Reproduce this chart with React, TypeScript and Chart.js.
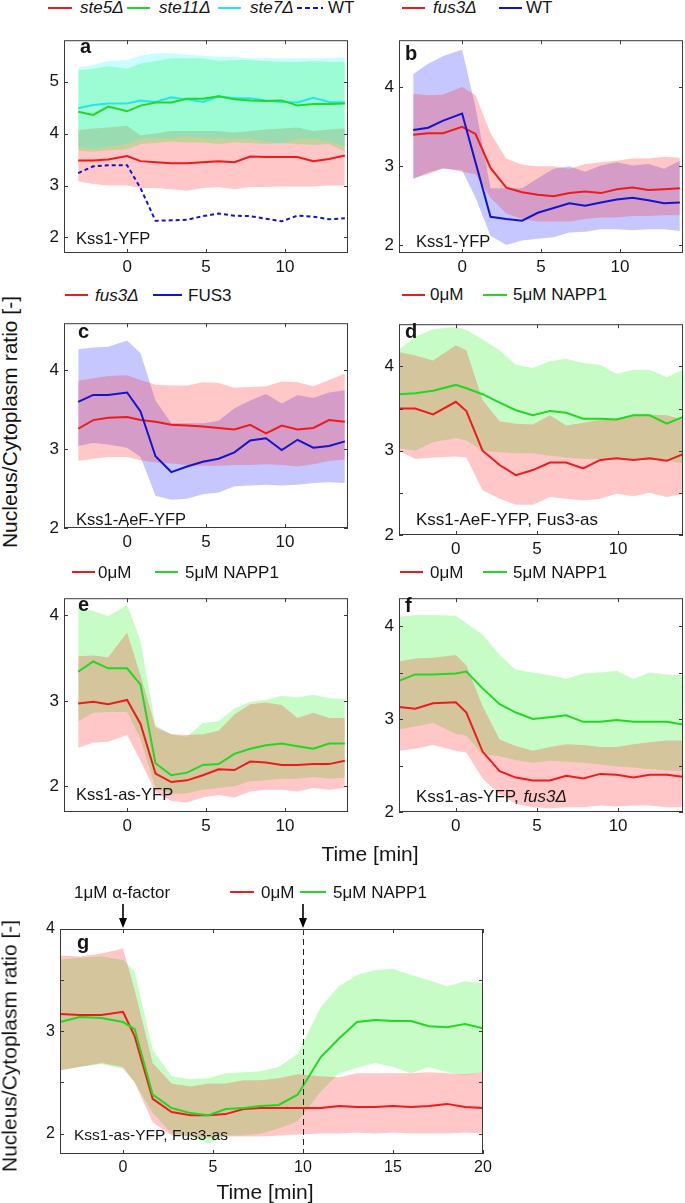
import React, { useEffect, useRef } from "react";
import { Chart, registerables } from "chart.js";

Chart.register(...registerables);

const FONT = '"Liberation Sans", Arial, Helvetica, sans-serif';
Chart.defaults.font.family = FONT;

const TXT = "#151515";
const RED = "#ec1c1c";
const GREEN = "#22d822";
const BLUE = "#1414cc";
const CYAN = "#22e6ee";
const RED_BAND = "rgba(255,0,0,0.22)";
const GREEN_BAND = "rgba(0,240,0,0.22)";
const BLUE_BAND = "rgba(0,0,255,0.22)";
const CYAN_BAND = "rgba(0,255,255,0.22)";

// ---------- time axes ----------
const T1 = [-3.1, -2.15, -1.2, 0, 0.85, 1.8, 2.8, 3.8, 4.8, 5.8, 6.8, 7.8, 8.8, 9.8, 10.8, 11.8, 12.8, 13.8];
const T2 = [-3.5, -2.5, -1.4, 0, 0.65, 1.65, 2.7, 3.7, 4.75, 5.8, 6.8, 7.85, 8.9, 9.9, 10.95, 11.95, 13.0, 14.0];
const TG = [-3.5, -2.4, -1.2, 0, 0.65, 1.65, 2.7, 3.75, 4.75, 5.7, 6.7, 7.65, 8.65, 9.7, 11, 12, 13, 14, 15, 16, 17, 18, 19, 20];

// ---------- panel a ----------
const aSte5 = [3.48, 3.48, 3.5, 3.57, 3.47, 3.45, 3.43, 3.43, 3.45, 3.47, 3.45, 3.56, 3.55, 3.55, 3.55, 3.47, 3.51, 3.58];
const aSte5Hi = [4.07, 4.1, 4.12, 4.15, 3.97, 4.0, 4.05, 4.05, 4.05, 4.05, 4.02, 4.05, 4.08, 4.1, 4.12, 4.05, 4.08, 4.1];
const aSte5Lo = [3.08, 3.03, 3.0, 3.0, 2.95, 2.95, 2.93, 2.9, 2.95, 2.97, 2.93, 2.97, 2.97, 2.98, 2.98, 2.98, 3.0, 3.0];
const aSte11 = [4.42, 4.36, 4.52, 4.43, 4.54, 4.6, 4.6, 4.67, 4.67, 4.72, 4.66, 4.64, 4.63, 4.64, 4.54, 4.57, 4.57, 4.58];
const aSte11Hi = [5.22, 5.25, 5.3, 5.25, 5.35, 5.4, 5.45, 5.45, 5.45, 5.4, 5.42, 5.42, 5.4, 5.38, 5.38, 5.4, 5.38, 5.38];
const aSte11Lo = [3.67, 3.65, 3.68, 3.7, 3.8, 3.82, 3.85, 3.83, 3.83, 3.8, 3.83, 3.82, 3.8, 3.82, 3.8, 3.78, 3.8, 3.65];
const aSte7 = [4.49, 4.55, 4.58, 4.58, 4.64, 4.61, 4.7, 4.66, 4.61, 4.72, 4.68, 4.68, 4.64, 4.61, 4.6, 4.69, 4.61, 4.6];
const aSte7Hi = [5.28, 5.32, 5.4, 5.42, 5.5, 5.55, 5.55, 5.52, 5.5, 5.48, 5.48, 5.45, 5.45, 5.45, 5.45, 5.45, 5.45, 5.47];
const aSte7Lo = [3.75, 3.7, 3.75, 3.8, 3.9, 3.9, 3.9, 3.95, 3.9, 3.9, 3.9, 3.9, 3.85, 3.8, 3.9, 3.9, 3.85, 3.75];
const aWT = [3.24, 3.37, 3.39, 3.39, 2.95, 2.32, 2.33, 2.34, 2.41, 2.46, 2.42, 2.41, 2.36, 2.31, 2.42, 2.4, 2.35, 2.37];

// ---------- panel b ----------
const bFus3 = [3.4, 3.42, 3.42, 3.5, 3.41, 2.98, 2.73, 2.67, 2.64, 2.62, 2.66, 2.68, 2.66, 2.71, 2.73, 2.7, 2.71, 2.72];
const bFus3Hi = [3.92, 3.9, 3.91, 4.01, 3.9, 3.42, 3.1, 3.02, 3.0, 3.0, 2.97, 3.03, 3.05, 3.07, 3.1, 3.1, 3.12, 3.11];
const bFus3Lo = [2.85, 2.9, 2.98, 2.93, 2.9, 2.6, 2.4, 2.33, 2.3, 2.3, 2.3, 2.33, 2.35, 2.35, 2.37, 2.37, 2.38, 2.38];
const bWT = [3.46, 3.49, 3.58, 3.67, 3.05, 2.36, 2.33, 2.31, 2.41, 2.47, 2.53, 2.5, 2.54, 2.58, 2.6, 2.57, 2.53, 2.54];
const bWTHi = [4.17, 4.3, 4.4, 4.48, 3.75, 2.72, 2.72, 2.72, 2.85, 2.97, 3.0, 2.93, 3.01, 3.05, 3.01, 3.03, 2.97, 3.07];
const bWTLo = [2.84, 2.92, 2.97, 2.95, 2.6, 2.12, 2.0, 2.06, 2.08, 2.1, 2.16, 2.17, 2.2, 2.2, 2.19, 2.2, 2.2, 2.18];

// ---------- panel c ----------
const cFus3 = [3.26, 3.37, 3.4, 3.41, 3.37, 3.35, 3.31, 3.3, 3.29, 3.27, 3.25, 3.31, 3.2, 3.3, 3.25, 3.27, 3.37, 3.35];
const cFus3Hi = [3.87, 3.9, 3.93, 3.94, 3.88, 3.82, 3.81, 3.81, 3.85, 3.84, 3.78, 3.79, 3.8, 3.86, 3.85, 3.8, 3.88, 3.96];
const cFus3Lo = [2.85, 2.88, 2.9, 2.9, 2.86, 2.83, 2.82, 2.8, 2.79, 2.79, 2.8, 2.8, 2.81, 2.8, 2.78, 2.81, 2.85, 2.87];
const cFUS3 = [3.6, 3.69, 3.69, 3.72, 3.48, 2.91, 2.71, 2.78, 2.84, 2.88, 2.96, 3.11, 3.14, 2.99, 3.12, 3.02, 3.04, 3.1];
const cFUS3Hi = [4.27, 4.29, 4.3, 4.38, 4.22, 3.62, 3.33, 3.33, 3.33, 3.36, 3.52, 3.62, 3.7, 3.58, 3.69, 3.65, 3.72, 3.75];
const cFUS3Lo = [3.04, 3.08, 3.06, 3.02, 2.9, 2.41, 2.36, 2.37, 2.43, 2.45, 2.53, 2.54, 2.55, 2.54, 2.55, 2.57, 2.58, 2.57];

// ---------- panel d ----------
const d0 = [3.5, 3.5, 3.43, 3.58, 3.47, 3.0, 2.83, 2.71, 2.77, 2.86, 2.86, 2.79, 2.89, 2.91, 2.89, 2.91, 2.88, 2.96];
const d0Hi = [4.17, 4.13, 4.07, 4.25, 4.19, 3.6, 3.35, 3.32, 3.31, 3.42, 3.3, 3.33, 3.37, 3.38, 3.43, 3.43, 3.42, 3.37];
const d0Lo = [3.0, 2.9, 2.92, 2.93, 2.92, 2.53, 2.43, 2.36, 2.36, 2.45, 2.43, 2.41, 2.43, 2.49, 2.46, 2.5, 2.45, 2.49];
const d5 = [3.67, 3.68, 3.71, 3.78, 3.74, 3.67, 3.57, 3.48, 3.42, 3.47, 3.45, 3.38, 3.38, 3.37, 3.42, 3.42, 3.32, 3.4];
const d5Hi = [4.2, 4.35, 4.44, 4.47, 4.43, 4.32, 4.19, 4.02, 3.98, 4.06, 4.09, 4.04, 4.02, 3.91, 3.96, 3.96, 3.87, 3.96];
const d5Lo = [3.03, 3.0, 3.1, 3.15, 3.12, 3.0, 2.98, 2.97, 2.97, 2.94, 2.92, 2.9, 2.9, 2.92, 2.89, 2.89, 2.88, 2.85];

// ---------- panel e ----------
const e0 = [2.97, 2.99, 2.96, 3.01, 2.73, 2.15, 2.05, 2.07, 2.13, 2.2, 2.19, 2.29, 2.28, 2.25, 2.25, 2.26, 2.26, 2.3];
const e0Hi = [3.52, 3.53, 3.51, 3.8, 3.3, 2.69, 2.61, 2.6, 2.61, 2.65, 2.84, 2.96, 2.98, 2.95, 2.8, 2.86, 2.8, 2.8];
const e0Lo = [2.45, 2.51, 2.52, 2.6, 2.3, 1.93, 1.83, 1.81, 1.87, 1.9, 1.87, 1.94, 1.96, 1.96, 1.94, 1.98, 1.96, 1.98];
const e5 = [3.34, 3.46, 3.38, 3.38, 3.19, 2.27, 2.13, 2.16, 2.25, 2.26, 2.38, 2.44, 2.48, 2.5, 2.47, 2.44, 2.5, 2.5];
const e5Hi = [4.1, 4.05, 3.99, 4.12, 3.7, 2.71, 2.61, 2.58, 2.74, 2.76, 2.91, 2.99, 3.01, 3.06, 3.04, 3.07, 3.03, 3.02];
const e5Lo = [2.76, 2.86, 2.87, 2.87, 2.55, 1.98, 1.91, 1.92, 1.96, 1.98, 2.0, 2.06, 2.07, 2.09, 2.09, 2.11, 2.09, 2.1];

// ---------- panel f ----------
const f0 = [3.13, 3.11, 3.17, 3.18, 3.07, 2.65, 2.44, 2.37, 2.34, 2.34, 2.39, 2.36, 2.41, 2.4, 2.37, 2.4, 2.4, 2.38];
const f0Hi = [3.62, 3.65, 3.66, 3.69, 3.58, 3.14, 2.78, 2.71, 2.66, 2.7, 2.73, 2.72, 2.7, 2.7, 2.73, 2.75, 2.77, 2.77];
const f0Lo = [2.66, 2.68, 2.72, 2.66, 2.64, 2.36, 2.19, 2.09, 2.05, 2.04, 2.05, 2.05, 2.07, 2.06, 2.07, 2.07, 2.05, 2.05];
const f5 = [3.41, 3.48, 3.48, 3.49, 3.51, 3.33, 3.16, 3.07, 3.0, 3.02, 3.04, 2.97, 2.97, 2.99, 2.97, 2.97, 2.97, 2.94];
const f5Hi = [4.1, 4.12, 4.12, 4.11, 4.03, 3.91, 3.69, 3.53, 3.5, 3.47, 3.43, 3.49, 3.5, 3.52, 3.43, 3.5, 3.48, 3.47];
const f5Lo = [2.89, 2.92, 2.96, 2.84, 2.82, 2.62, 2.6, 2.56, 2.53, 2.55, 2.54, 2.53, 2.51, 2.49, 2.48, 2.46, 2.45, 2.44];

// ---------- panel g ----------
const g0 = [3.17, 3.16, 3.16, 3.19, 2.95, 2.34, 2.21, 2.18, 2.18, 2.19, 2.24, 2.25, 2.25, 2.25, 2.25, 2.27, 2.26, 2.26, 2.27, 2.26, 2.27, 2.29, 2.26, 2.25];
const g0Hi = [3.74, 3.73, 3.76, 3.81, 3.4, 2.69, 2.49, 2.46, 2.49, 2.49, 2.52, 2.52, 2.54, 2.58, 2.56, 2.55, 2.59, 2.59, 2.59, 2.59, 2.6, 2.59, 2.58, 2.6];
const g0Lo = [2.62, 2.65, 2.69, 2.65, 2.5, 2.11, 1.98, 1.97, 1.96, 1.97, 1.97, 1.97, 1.98, 1.99, 2.0, 2.0, 2.01, 2.0, 2.01, 2.0, 2.0, 2.0, 2.01, 2.0];
const g5 = [3.09, 3.14, 3.13, 3.09, 3.02, 2.38, 2.25, 2.2, 2.18, 2.24, 2.25, 2.27, 2.28, 2.38, 2.75, 2.93, 3.09, 3.11, 3.1, 3.1, 3.05, 3.04, 3.07, 3.03];
const g5Hi = [3.7, 3.72, 3.73, 3.7, 3.58, 2.82, 2.56, 2.53, 2.54, 2.59, 2.6, 2.61, 2.65, 2.78, 3.24, 3.44, 3.55, 3.6, 3.61, 3.55, 3.5, 3.44, 3.49, 3.47];
const g5Lo = [2.62, 2.65, 2.68, 2.63, 2.5, 2.2, 2.0, 1.97, 1.9, 1.98, 1.98, 2.0, 2.05, 2.12, 2.41, 2.59, 2.64, 2.69, 2.65, 2.59, 2.65, 2.6, 2.57, 2.6];
const gStimulusTimes = [0, 10];
const gDrugTime = [10];

// ---------- tick labels ----------
const xTicks14 = [0, 5, 10];
const xTicks20 = [0, 5, 10, 15, 20];
const yTicksA = [2, 3, 4, 5];
const yTicksInt = [2, 3, 4];
const yTicksHalf = [2, 2.5, 3, 3.5, 4];

// ---------- layout ----------
const YW = 40;
const XH = 30;

type Band = { lo: number[]; hi: number[]; color: string };
type Ln = { y: number[]; color: string; dash?: number[] };
type Spec = {
  id: string;
  t: number[];
  xr: [number, number];
  yr: [number, number];
  xTicks: number[];
  yTicks: number[];
  box: { l: number; t: number; r: number; b: number };
  pt: number;
  pr: number;
  fs: number;
  bands: Band[];
  lines: Ln[];
  dashedX?: number[];
  arrowsX?: number[];
};

const PANELS: Spec[] = [
  {
    id: "a", t: T1, xr: [-4, 14], yr: [1.7, 5.8], xTicks: xTicks14, yTicks: yTicksA,
    box: { l: 64, t: 29, r: 348, b: 253 }, pt: 4, pr: 10, fs: 17,
    bands: [
      { lo: aSte7Lo, hi: aSte7Hi, color: CYAN_BAND },
      { lo: aSte11Lo, hi: aSte11Hi, color: GREEN_BAND },
      { lo: aSte5Lo, hi: aSte5Hi, color: RED_BAND },
    ],
    lines: [
      { y: aWT, color: BLUE, dash: [4, 3] },
      { y: aSte5, color: RED },
      { y: aSte11, color: GREEN },
      { y: aSte7, color: CYAN },
    ],
  },
  {
    id: "b", t: T1, xr: [-4, 14], yr: [1.9, 4.6], xTicks: xTicks14, yTicks: yTicksInt,
    box: { l: 399, t: 29, r: 683, b: 253 }, pt: 4, pr: 2, fs: 17,
    bands: [
      { lo: bFus3Lo, hi: bFus3Hi, color: RED_BAND },
      { lo: bWTLo, hi: bWTHi, color: BLUE_BAND },
    ],
    lines: [
      { y: bWT, color: BLUE },
      { y: bFus3, color: RED },
    ],
  },
  {
    id: "c", t: T1, xr: [-4, 14], yr: [2, 4.6], xTicks: xTicks14, yTicks: yTicksInt,
    box: { l: 64, t: 312, r: 348, b: 528 }, pt: 4, pr: 10, fs: 17,
    bands: [
      { lo: cFus3Lo, hi: cFus3Hi, color: RED_BAND },
      { lo: cFUS3Lo, hi: cFUS3Hi, color: BLUE_BAND },
    ],
    lines: [
      { y: cFUS3, color: BLUE },
      { y: cFus3, color: RED },
    ],
  },
  {
    id: "d", t: T2, xr: [-3.5, 14], yr: [2, 4.5], xTicks: xTicks14, yTicks: yTicksHalf,
    box: { l: 399, t: 313, r: 683, b: 535 }, pt: 4, pr: 2, fs: 17,
    bands: [
      { lo: d0Lo, hi: d0Hi, color: RED_BAND },
      { lo: d5Lo, hi: d5Hi, color: GREEN_BAND },
    ],
    lines: [
      { y: d5, color: GREEN },
      { y: d0, color: RED },
    ],
  },
  {
    id: "e", t: T1, xr: [-4, 14], yr: [1.7, 4.2], xTicks: xTicks14, yTicks: yTicksInt,
    box: { l: 64, t: 587, r: 348, b: 812 }, pt: 4, pr: 10, fs: 17,
    bands: [
      { lo: e0Lo, hi: e0Hi, color: RED_BAND },
      { lo: e5Lo, hi: e5Hi, color: GREEN_BAND },
    ],
    lines: [
      { y: e5, color: GREEN },
      { y: e0, color: RED },
    ],
  },
  {
    id: "f", t: T2, xr: [-3.5, 14], yr: [2, 4.3], xTicks: xTicks14, yTicks: yTicksHalf,
    box: { l: 399, t: 587, r: 683, b: 812 }, pt: 4, pr: 2, fs: 17,
    bands: [
      { lo: f0Lo, hi: f0Hi, color: RED_BAND },
      { lo: f5Lo, hi: f5Hi, color: GREEN_BAND },
    ],
    lines: [
      { y: f5, color: GREEN },
      { y: f0, color: RED },
    ],
  },
  {
    id: "g", t: TG, xr: [-3.5, 20], yr: [1.8, 4], xTicks: xTicks20, yTicks: yTicksHalf,
    box: { l: 60, t: 929, r: 483, b: 1154 }, pt: 30, pr: 14, fs: 16,
    bands: [
      { lo: g0Lo, hi: g0Hi, color: RED_BAND },
      { lo: g5Lo, hi: g5Hi, color: GREEN_BAND },
    ],
    lines: [
      { y: g5, color: GREEN },
      { y: g0, color: RED },
    ],
    dashedX: gDrugTime,
    arrowsX: gStimulusTimes,
  },
];

const pts = (t: number[], y: number[]) => t.map((x, i) => ({ x, y: y[i] }));

const framePlugin = {
  id: "frame",
  afterDatasetsDraw(chart: any, _args: any, opts: any) {
    const { ctx, chartArea } = chart;
    const { left, right, top, bottom } = chartArea;
    const xs = chart.scales.x;
    const ys = chart.scales.y;
    ctx.save();
    // dashed vertical markers
    if (opts.dashedX) {
      ctx.strokeStyle = "#222";
      ctx.lineWidth = 1;
      ctx.setLineDash([6, 4]);
      opts.dashedX.forEach((v: number) => {
        const px = Math.round(xs.getPixelForValue(v)) + 0.5;
        ctx.beginPath();
        ctx.moveTo(px, top);
        ctx.lineTo(px, bottom);
        ctx.stroke();
      });
      ctx.setLineDash([]);
    }
    // frame
    ctx.strokeStyle = "#3a3a3a";
    ctx.lineWidth = 1;
    ctx.strokeRect(left + 0.5, top + 0.5, right - left - 1, bottom - top - 1);
    const tl = 4;
    ctx.beginPath();
    xs.ticks.forEach((t: any) => {
      const px = Math.round(xs.getPixelForValue(t.value)) + 0.5;
      ctx.moveTo(px, bottom);
      ctx.lineTo(px, bottom - tl);
      ctx.moveTo(px, top);
      ctx.lineTo(px, top + tl);
    });
    ys.ticks.forEach((t: any) => {
      const py = Math.round(ys.getPixelForValue(t.value)) + 0.5;
      ctx.moveTo(left, py);
      ctx.lineTo(left + tl, py);
      ctx.moveTo(right, py);
      ctx.lineTo(right - tl, py);
    });
    ctx.stroke();
    // arrows above the axes
    if (opts.arrowsX) {
      ctx.strokeStyle = "#000";
      ctx.fillStyle = "#000";
      ctx.lineWidth = 1.6;
      opts.arrowsX.forEach((v: number) => {
        const px = xs.getPixelForValue(v);
        ctx.beginPath();
        ctx.moveTo(px, top - 25);
        ctx.lineTo(px, top - 8);
        ctx.stroke();
        ctx.beginPath();
        ctx.moveTo(px - 4, top - 11);
        ctx.lineTo(px + 4, top - 11);
        ctx.lineTo(px, top - 1);
        ctx.closePath();
        ctx.fill();
      });
    }
    ctx.restore();
  },
};

function makeConfig(p: Spec): any {
  const datasets: any[] = [];
  p.lines.forEach((l) =>
    datasets.push({
      data: pts(p.t, l.y),
      borderColor: l.color,
      borderWidth: 2,
      borderDash: l.dash || [],
      pointRadius: 0,
      fill: false,
    })
  );
  p.bands.forEach((b) => {
    datasets.push({
      data: pts(p.t, b.lo),
      borderColor: "transparent",
      borderWidth: 0,
      pointRadius: 0,
      fill: false,
    });
    datasets.push({
      data: pts(p.t, b.hi),
      borderColor: "transparent",
      borderWidth: 0,
      pointRadius: 0,
      fill: "-1",
      backgroundColor: b.color,
    });
  });
  const tickFont = { size: p.fs, family: FONT };
  return {
    type: "line",
    data: { datasets },
    plugins: [framePlugin],
    options: {
      animation: false,
      responsive: false,
      devicePixelRatio: 1,
      events: [],
      layout: { padding: { left: 0, top: p.pt, right: p.pr, bottom: 0 } },
      plugins: {
        legend: { display: false },
        tooltip: { enabled: false },
        title: { display: false },
        filler: { drawTime: "beforeDatasetsDraw", propagate: false },
        frame: { dashedX: p.dashedX, arrowsX: p.arrowsX },
      },
      scales: {
        x: {
          type: "linear",
          min: p.xr[0],
          max: p.xr[1],
          afterBuildTicks: (s: any) => {
            s.ticks = p.xTicks.map((v) => ({ value: v }));
          },
          afterFit: (s: any) => {
            s.height = XH;
          },
          ticks: {
            font: tickFont,
            color: TXT,
            padding: 4,
            maxRotation: 0,
            autoSkip: false,
            callback: (v: any) => String(v),
          },
          grid: { display: false, drawTicks: false },
          border: { display: false },
        },
        y: {
          type: "linear",
          min: p.yr[0],
          max: p.yr[1],
          afterBuildTicks: (s: any) => {
            s.ticks = p.yTicks.map((v) => ({ value: v }));
          },
          afterFit: (s: any) => {
            s.width = YW;
          },
          ticks: {
            font: tickFont,
            color: TXT,
            padding: 5,
            autoSkip: false,
            callback: (v: any) => (Number.isInteger(v) ? String(v) : ""),
          },
          grid: { display: false, drawTicks: false },
          border: { display: false },
        },
      },
    },
  };
}

function Panel({ p }: { p: Spec }) {
  const ref = useRef<HTMLCanvasElement>(null);
  const w = YW + (p.box.r - p.box.l) + p.pr;
  const h = p.pt + (p.box.b - p.box.t) + XH;
  useEffect(() => {
    const chart = new Chart(ref.current as HTMLCanvasElement, makeConfig(p));
    return () => chart.destroy();
  }, []);
  return (
    <canvas
      ref={ref}
      width={w}
      height={h}
      style={{ position: "absolute", left: p.box.l - YW, top: p.box.t - p.pt, width: w, height: h }}
    />
  );
}

// ---------- text overlays ----------
type Part = { s: string; i?: boolean };
type LegItem = { x1: number; x2: number; color: string; dash?: boolean; tx: number; parts: Part[] };

const LEGENDS: { base: number; items: LegItem[] }[] = [
  {
    base: 13.5,
    items: [
      { x1: 48, x2: 72, color: RED, tx: 80, parts: [{ s: "ste5Δ", i: true }] },
      { x1: 127, x2: 150, color: GREEN, tx: 159, parts: [{ s: "ste11Δ", i: true }] },
      { x1: 218, x2: 241, color: CYAN, tx: 250, parts: [{ s: "ste7Δ", i: true }] },
      { x1: 297, x2: 323, color: BLUE, dash: true, tx: 328, parts: [{ s: "WT" }] },
    ],
  },
  {
    base: 13.5,
    items: [
      { x1: 402, x2: 425, color: RED, tx: 433, parts: [{ s: "fus3Δ", i: true }] },
      { x1: 499, x2: 522, color: BLUE, tx: 526, parts: [{ s: "WT" }] },
    ],
  },
  {
    base: 301,
    items: [
      { x1: 65, x2: 88, color: RED, tx: 95, parts: [{ s: "fus3Δ", i: true }] },
      { x1: 153, x2: 182, color: BLUE, tx: 188, parts: [{ s: "FUS3" }] },
    ],
  },
  {
    base: 300.5,
    items: [
      { x1: 402, x2: 425, color: RED, tx: 430, parts: [{ s: "0μM" }] },
      { x1: 483, x2: 507, color: GREEN, tx: 513, parts: [{ s: "5μM NAPP1" }] },
    ],
  },
  {
    base: 578,
    items: [
      { x1: 72, x2: 95, color: RED, tx: 98, parts: [{ s: "0μM" }] },
      { x1: 155, x2: 178, color: GREEN, tx: 185, parts: [{ s: "5μM NAPP1" }] },
    ],
  },
  {
    base: 578,
    items: [
      { x1: 400, x2: 423, color: RED, tx: 430, parts: [{ s: "0μM" }] },
      { x1: 483, x2: 507, color: GREEN, tx: 513, parts: [{ s: "5μM NAPP1" }] },
    ],
  },
  {
    base: 898,
    items: [
      { x1: 230, x2: 254, color: RED, tx: 261, parts: [{ s: "0μM" }] },
      { x1: 300, x2: 326, color: GREEN, tx: 333, parts: [{ s: "5μM NAPP1" }] },
    ],
  },
];

type Note = { x: number; base: number; size: number; bold?: boolean; parts: Part[] };
const NOTES: Note[] = [
  { x: 80, base: 53, size: 20, bold: true, parts: [{ s: "a" }] },
  { x: 405, base: 60, size: 20, bold: true, parts: [{ s: "b" }] },
  { x: 78, base: 338, size: 20, bold: true, parts: [{ s: "c" }] },
  { x: 405, base: 338, size: 20, bold: true, parts: [{ s: "d" }] },
  { x: 78, base: 611, size: 20, bold: true, parts: [{ s: "e" }] },
  { x: 405, base: 612, size: 20, bold: true, parts: [{ s: "f" }] },
  { x: 77, base: 949, size: 20, bold: true, parts: [{ s: "g" }] },
  { x: 76, base: 244, size: 16.5, parts: [{ s: "Kss1-YFP" }] },
  { x: 416, base: 247, size: 16.5, parts: [{ s: "Kss1-YFP" }] },
  { x: 76, base: 525, size: 16.5, parts: [{ s: "Kss1-AeF-YFP" }] },
  { x: 416, base: 525, size: 17, parts: [{ s: "Kss1-AeF-YFP, Fus3-as" }] },
  { x: 76, base: 800, size: 16.5, parts: [{ s: "Kss1-as-YFP" }] },
  { x: 416, base: 802, size: 17, parts: [{ s: "Kss1-as-YFP, " }, { s: "fus3Δ", i: true }] },
  { x: 74, base: 1140, size: 15.5, parts: [{ s: "Kss1-as-YFP, Fus3-as" }] },
  { x: 74, base: 898, size: 17, parts: [{ s: "1μM α-factor" }] },
];

const TITLES = [
  { cx: 9, cy: 422, rot: true, s: "Nucleus/Cytoplasm ratio [-]" },
  { cx: 9, cy: 1046, rot: true, s: "Nucleus/Cytoplasm ratio [-]" },
  { cx: 370, cy: 853, rot: false, s: "Time [min]" },
  { cx: 265, cy: 1191, rot: false, s: "Time [min]" },
];

const ASC = 0.8465;

function Parts({ parts }: { parts: Part[] }) {
  return (
    <>
      {parts.map((pt, k) => (
        <span key={k} style={{ fontStyle: pt.i ? "italic" : "normal" }}>
          {pt.s}
        </span>
      ))}
    </>
  );
}

export default function App() {
  const legSize = 17;
  return (
    <div
      style={{
        position: "absolute",
        left: 0,
        top: 0,
        width: 685,
        height: 1203,
        background: "#fff",
        fontFamily: FONT,
        color: TXT,
        overflow: "hidden",
      }}
    >
      {PANELS.map((p) => (
        <Panel key={p.id} p={p} />
      ))}
      {LEGENDS.map((lg, gi) =>
        lg.items.map((it, k) => (
          <React.Fragment key={gi + "-" + k}>
            <div
              style={{
                position: "absolute",
                left: it.x1,
                top: lg.base - 7,
                width: it.x2 - it.x1,
                height: 2,
                background: it.dash
                  ? `repeating-linear-gradient(to right, ${it.color} 0px, ${it.color} 5px, transparent 5px, transparent 8px)`
                  : it.color,
              }}
            />
            <div
              style={{
                position: "absolute",
                left: it.tx,
                top: lg.base - ASC * legSize,
                fontSize: legSize,
                lineHeight: legSize + "px",
                whiteSpace: "nowrap",
              }}
            >
              <Parts parts={it.parts} />
            </div>
          </React.Fragment>
        ))
      )}
      {NOTES.map((n, k) => (
        <div
          key={"n" + k}
          style={{
            position: "absolute",
            left: n.x,
            top: n.base - ASC * n.size,
            fontSize: n.size,
            lineHeight: n.size + "px",
            fontWeight: n.bold ? "bold" : "normal",
            whiteSpace: "nowrap",
          }}
        >
          <Parts parts={n.parts} />
        </div>
      ))}
      {TITLES.map((t, k) => (
        <div
          key={"t" + k}
          style={{
            position: "absolute",
            left: t.cx,
            top: t.cy,
            fontSize: 21,
            lineHeight: "21px",
            whiteSpace: "nowrap",
            transform: t.rot ? "translate(-50%, -50%) rotate(-90deg)" : "translate(-50%, -50%)",
          }}
        >
          {t.s}
        </div>
      ))}
    </div>
  );
}
